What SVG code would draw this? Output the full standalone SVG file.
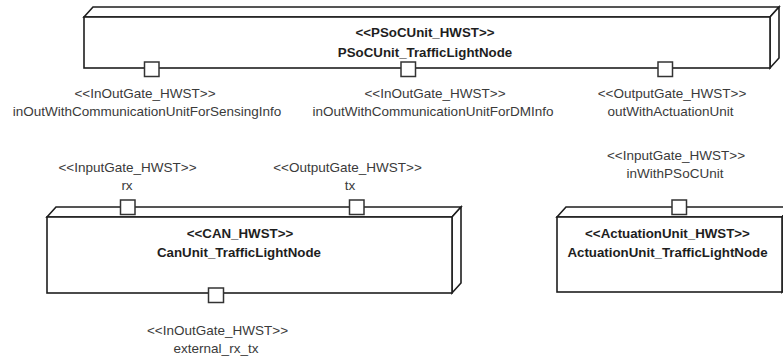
<svg xmlns="http://www.w3.org/2000/svg" width="783" height="359" viewBox="0 0 783 359">
<style>
.box{fill:#fff;stroke:#1e1e1e;stroke-width:1.6;stroke-linejoin:miter}
.port{fill:#fff;stroke:#333;stroke-width:1.5}
.name{font-family:"Liberation Sans",Arial,sans-serif;font-size:13.3px;font-weight:bold;fill:#1e1e1e;text-anchor:middle}
.lbl{font-family:"Liberation Sans",Arial,sans-serif;font-size:13.5px;fill:#3a3a3a;text-anchor:middle}
</style>
<rect width="783" height="359" fill="#fff"/>
<g id="connectors"/>
<g id="PSoCUnit_TrafficLightNode">
<polygon class="box" points="84,17 93,7 779,7 770,17"/>
<polygon class="box" points="770,17 779,7 779,58 770,68"/>
<rect class="box" x="84" y="17" width="686" height="51"/>
<text class="name" x="425" y="36.5">&lt;&lt;PSoCUnit_HWST&gt;&gt;</text>
<text class="name" x="425" y="56.5">PSoCUnit_TrafficLightNode</text>
</g>
<g id="port_inOutWithCommunicationUnitForSensingInfo">
<rect class="port" x="144.5" y="62" width="14.5" height="14.5"/>
<text class="lbl" x="145" y="97.5">&lt;&lt;InOutGate_HWST&gt;&gt;</text>
<text class="lbl" x="147" y="115.5">inOutWithCommunicationUnitForSensingInfo</text>
</g>
<g id="port_inOutWithCommunicationUnitForDMInfo">
<rect class="port" x="401" y="62" width="14.5" height="14.5"/>
<text class="lbl" x="435" y="97.5">&lt;&lt;InOutGate_HWST&gt;&gt;</text>
<text class="lbl" x="433" y="115.5">inOutWithCommunicationUnitForDMInfo</text>
</g>
<g id="port_outWithActuationUnit">
<rect class="port" x="658" y="62" width="14.5" height="14.5"/>
<text class="lbl" x="672" y="97.5">&lt;&lt;OutputGate_HWST&gt;&gt;</text>
<text class="lbl" x="670.5" y="115.5">outWithActuationUnit</text>
</g>
<g id="CanUnit_TrafficLightNode">
<polygon class="box" points="47,217 56,207 461,207 452,217"/>
<polygon class="box" points="452,217 461,207 461,283 452,293"/>
<rect class="box" x="47" y="217" width="405" height="76"/>
<text class="name" x="240" y="238">&lt;&lt;CAN_HWST&gt;&gt;</text>
<text class="name" x="239" y="256.5">CanUnit_TrafficLightNode</text>
</g>
<g id="port_rx">
<rect class="port" x="120.5" y="200" width="14.5" height="14.5"/>
<text class="lbl" x="127.5" y="171.5">&lt;&lt;InputGate_HWST&gt;&gt;</text>
<text class="lbl" x="127" y="190">rx</text>
</g>
<g id="port_tx">
<rect class="port" x="349.5" y="200" width="14.5" height="14.5"/>
<text class="lbl" x="347.5" y="171.5">&lt;&lt;OutputGate_HWST&gt;&gt;</text>
<text class="lbl" x="350" y="190">tx</text>
</g>
<g id="port_external_rx_tx">
<rect class="port" x="208.5" y="288" width="15" height="14.5"/>
<text class="lbl" x="217.5" y="335">&lt;&lt;InOutGate_HWST&gt;&gt;</text>
<text class="lbl" x="216" y="352.5">external_rx_tx</text>
</g>
<g id="ActuationUnit_TrafficLightNode">
<polygon class="box" points="557,217 566,207 791,207 782,217"/>
<polygon class="box" points="782,217 791,207 791,283 782,292"/>
<rect class="box" x="557" y="217" width="225" height="75"/>
<text class="name" x="667.5" y="238">&lt;&lt;ActuationUnit_HWST&gt;&gt;</text>
<text class="name" x="667.5" y="256.5">ActuationUnit_TrafficLightNode</text>
</g>
<g id="port_inWithPSoCUnit">
<rect class="port" x="672" y="200" width="14.5" height="14.5"/>
<text class="lbl" x="676" y="159.5">&lt;&lt;InputGate_HWST&gt;&gt;</text>
<text class="lbl" x="675" y="178">inWithPSoCUnit</text>
</g>
</svg>
